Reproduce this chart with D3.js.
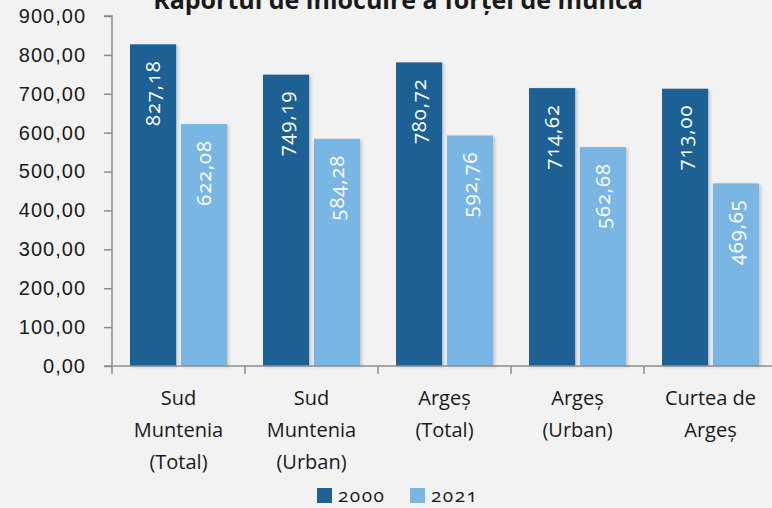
<!DOCTYPE html>
<html>
<head>
<meta charset="utf-8">
<script src="https://cdn.jsdelivr.net/npm/d3@7"></script>
<style>
  html, body { margin: 0; padding: 0; background: #f2f2f2; }
  svg { display: block; font-family: "Open Sans", "Noto Sans", sans-serif; font-variant-numeric: oldstyle-nums; }
</style>
</head>
<body>
<div id="chart"></div>
<script>
const categories = [
  ["Sud", "Muntenia", "(Total)"],
  ["Sud", "Muntenia", "(Urban)"],
  ["Argeș", "(Total)"],
  ["Argeș", "(Urban)"],
  ["Curtea de", "Argeș"]
];
const seriesNames = ["2000", "2021"];
const values2000 = [827.18, 749.19, 780.72, 714.62, 713.00];
const values2021 = [622.08, 584.28, 592.76, 562.68, 469.65];
const yTicks = [0, 100, 200, 300, 400, 500, 600, 700, 800, 900];
const title = "Raportul de înlocuire a forței de muncă";
const colors = ["#1f6194", "#7ab6e3"];

const W = 772, H = 508;
const m = { top: 16, left: 112, bottom: 142 };
const fmt = v => v.toFixed(2).replace(".", ",");

const svg = d3.select("#chart").append("svg")
  .attr("width", W).attr("height", H);

svg.append("rect").attr("width", W).attr("height", H).attr("fill", "#f2f2f2");

// ombre légère des barres
const defs = svg.append("defs");
const f = defs.append("filter").attr("id", "sh").attr("x", "-20%").attr("y", "-5%").attr("width", "150%").attr("height", "115%");
f.append("feDropShadow").attr("dx", 2).attr("dy", 1).attr("stdDeviation", 1.5)
  .attr("flood-color", "#000").attr("flood-opacity", 0.18);

const y = d3.scaleLinear().domain([0, 900]).range([H - m.bottom, m.top]);
const x = d3.scaleBand().domain(d3.range(categories.length)).range([m.left, m.left + 133 * 5]);
const inner = d3.scaleBand().domain([0, 1]).range([18, 133 - 18]).paddingInner(0.093);

// title (cut by the top edge, as in the source)
svg.append("text")
  .attr("x", 398).attr("y", 9)
  .attr("text-anchor", "middle")
  .attr("font-size", 25).attr("font-weight", 700).attr("fill", "#1a1a1a")
  .text(title);

// y axis
const yAx = svg.append("g")
  .attr("transform", `translate(${m.left},0)`)
  .call(d3.axisLeft(y).tickValues(yTicks).tickSize(8).tickPadding(18).tickFormat(fmt));
yAx.select(".domain").attr("stroke", "#8c8c8c").attr("stroke-width", 1.5).attr("d", `M-8,${y(900)}H0V${y(0)}`);
yAx.selectAll(".tick line").attr("stroke", "#8c8c8c").attr("stroke-width", 1.5);
yAx.selectAll(".tick text").attr("font-size", 20).attr("letter-spacing", 1).attr("fill", "#1a1a1a").attr("font-family", "inherit");

// bars
const data = [values2000, values2021];
const groups = svg.append("g").selectAll("g")
  .data(categories).join("g")
  .attr("transform", (d, i) => `translate(${x(i)},0)`);

data.forEach((vals, s) => {
  groups.append("rect")
    .attr("x", inner(s))
    .attr("width", inner.bandwidth())
    .attr("y", (d, i) => y(vals[i]))
    .attr("height", (d, i) => y(0) - y(vals[i]))
    .attr("fill", colors[s])
    .attr("filter", "url(#sh)");
  groups.append("text")
    .attr("transform", (d, i) => `translate(${inner(s) + inner.bandwidth() / 2 + 7},${y(vals[i]) + 16}) rotate(-90)`)
    .attr("text-anchor", "end")
    .attr("font-size", 20).attr("letter-spacing", 1).attr("fill", "#fff")
    .text((d, i) => fmt(vals[i]));
});

// x axis
const xAx = svg.append("g").attr("transform", `translate(0,${y(0)})`);
xAx.append("line").attr("x1", m.left - 8).attr("x2", W + 10).attr("stroke", "#8c8c8c").attr("stroke-width", 1.5);
xAx.selectAll(".xt").data(d3.range(categories.length + 1)).join("line")
  .attr("x1", i => m.left + 133 * i).attr("x2", i => m.left + 133 * i)
  .attr("y1", 0).attr("y2", 8)
  .attr("stroke", "#8c8c8c").attr("stroke-width", 1.5);

groups.append("text")
  .attr("text-anchor", "middle")
  .attr("font-size", 20).attr("fill", "#1a1a1a")
  .selectAll("tspan").data(d => d).join("tspan")
  .attr("x", x.bandwidth() / 2)
  .attr("y", (d, i) => y(0) + 39 + 32 * i)
  .text(d => d);

// legend
const lg = svg.append("g").attr("transform", "translate(317,488)");
seriesNames.forEach((n, i) => {
  const g = lg.append("g").attr("transform", `translate(${i * 93},0)`);
  g.append("rect").attr("width", 15).attr("height", 15).attr("fill", colors[i]);
  g.append("text").attr("x", 21).attr("y", 14).attr("font-size", 19).attr("letter-spacing", 1.5).attr("fill", "#1a1a1a").text(n);
});
</script>
</body>
</html>
